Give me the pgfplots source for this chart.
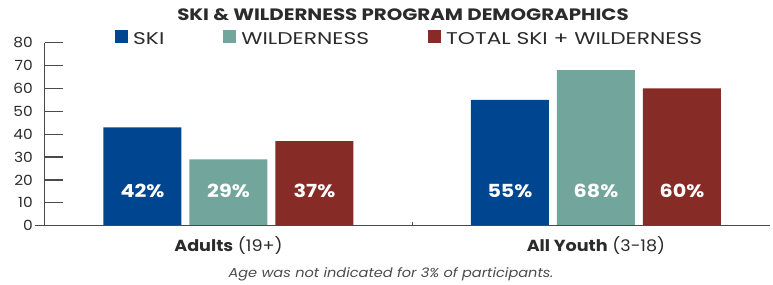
\documentclass[border=0pt]{standalone}
\usepackage{pgfplots}
\pgfplotsset{compat=1.18}
\usepackage{fontspec}
\setmainfont{Poppins}
\newfontfamily\titlef{Poppins}[FakeStretch=1.2]
\newfontfamily\legf{Poppins}[FakeStretch=1.28]
\newfontfamily\catf{Poppins}[FakeStretch=1.1]
\newfontfamily\footf{Poppins}[FakeStretch=1.12]
\newfontfamily\barf{Poppins}[FakeStretch=1.15]
\newfontfamily\tickf{Poppins}[FakeStretch=1.1]
\definecolor{skiblue}{HTML}{00458F}
\definecolor{wildteal}{HTML}{72A59C}
\definecolor{totred}{HTML}{862B25}
\definecolor{txt}{HTML}{2B2B2B}
\definecolor{axgray}{HTML}{4A4A4A}
\begin{document}
\begin{tikzpicture}[x=1pt,y=1pt]
\begin{axis}[
  at={(0,0)}, anchor=south west,
  scale only axis, width=735pt, height=183pt,
  xmin=-0.5265, xmax=1.4735, ymin=0, ymax=80,
  axis line style={draw=none},
  ytick={0,10,...,80}, major tick length=0pt,
  xtick={0,1},
  xticklabels={{\textbf{Adults} (19+)},{\textbf{All Youth} (3-18)}},
  yticklabel style={anchor=east, inner sep=0pt, xshift=-2pt, font=\tickf\fontsize{14}{14}\selectfont, text=txt},
  xticklabel style={anchor=north, inner sep=0pt, yshift=-11pt, font=\catf\fontsize{16}{16}\selectfont, text=txt},
  /pgf/number format/assume math mode=true,
  clip=false,
  legend image code/.code={\fill[#1] (0pt,-4pt) rectangle (13pt,9pt);},
  legend style={at={(80pt,195.7pt)}, anchor=north west, draw=none, fill=none, inner sep=0pt,
    nodes={inner sep=0pt, text=txt}, font=\legf\fontsize{17}{17}\selectfont,
    /tikz/every even column/.append style={column sep=59pt},
    /tikz/every odd column/.append style={column sep=5pt}},
  legend columns=3, legend cell align=left,
]
\addplot[ybar, bar width=78pt, bar shift=-86pt, fill=skiblue, draw=none] coordinates {(0,43) (1,55)};
\addlegendentry{SKI}
\addplot[ybar, bar width=78pt, bar shift=0pt, fill=wildteal, draw=none] coordinates {(0,29) (1,68)};
\addlegendentry{WILDERNESS}
\addplot[ybar, bar width=78pt, bar shift=86pt, fill=totred, draw=none] coordinates {(0,37) (1,60)};
\addlegendentry{TOTAL SKI + WILDERNESS}
\addplot[draw=none, mark=none, forget plot, nodes near coords, point meta=explicit symbolic,
  nodes near coords style={anchor=center, text=white, font=\barf\bfseries\fontsize{18}{18}\selectfont}]
  table[meta=lab] {
x y lab
-0.234 15.2 42\%
0 15.2 29\%
0.234 15.2 37\%
0.766 15.2 55\%
1 15.2 68\%
1.234 15.2 60\%
};
\draw[axgray, line width=1.3pt] (rel axis cs:0,0) -- (rel axis cs:1,0);
\draw[axgray, line width=1.3pt] (axis cs:-0.5,0) -- (axis cs:-0.5,80);
\pgfplotsinvokeforeach{0,10,...,80}{\draw[axgray, line width=1.3pt] (axis cs:-0.5,#1) -- (axis cs:-0.451,#1);}
\draw[axgray, line width=0.8pt] (axis cs:0.5,0) -- (axis cs:0.5,1.75);
\end{axis}
\node[font=\titlef\bfseries\fontsize{16.5}{16.5}\selectfont, text=txt] at (368,210.7) {SKI \& WILDERNESS PROGRAM DEMOGRAPHICS};
\node[font=\footf\itshape\fontsize{13}{13}\selectfont, text=txt!85] at (356,-48.3) {Age was not indicated for 3\% of participants.};
\path[use as bounding box] (-35,-58.3) rectangle (738,225.7);
\end{tikzpicture}
\end{document}
